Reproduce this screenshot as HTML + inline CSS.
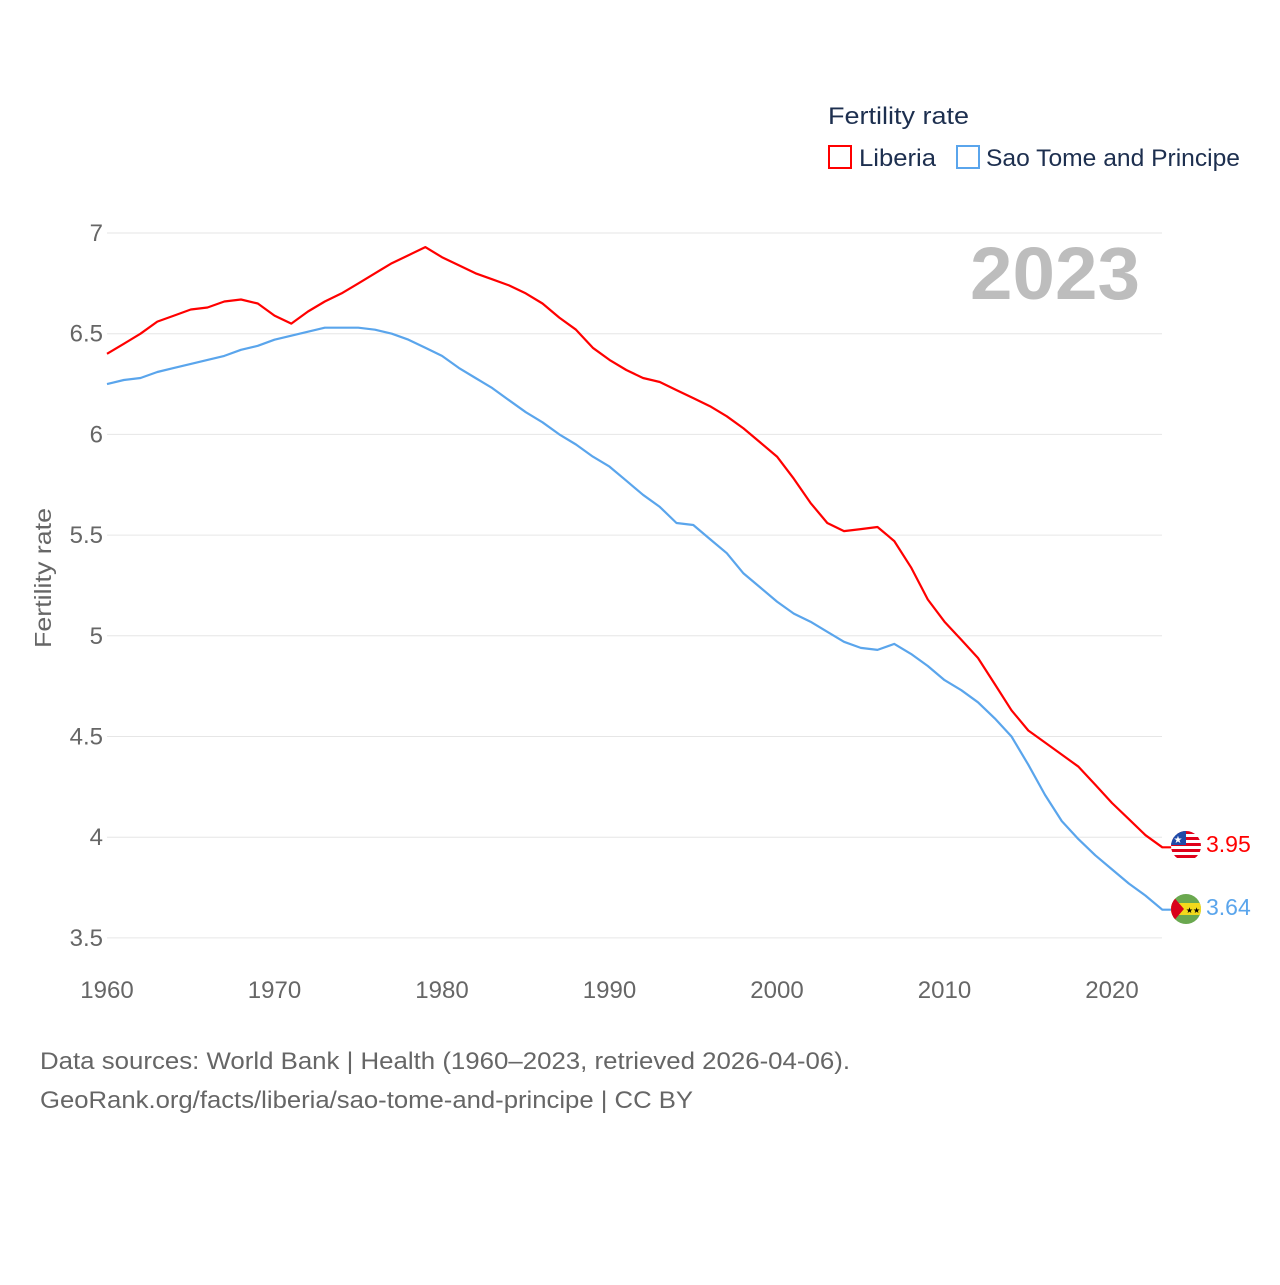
<!DOCTYPE html>
<html><head><meta charset="utf-8"><style>
body{margin:0;background:#fff;width:1280px;height:1280px;overflow:hidden;font-family:"Liberation Sans",sans-serif}
</style></head><body>
<svg id="chart" width="1280" height="1280" xmlns="http://www.w3.org/2000/svg" font-family="Liberation Sans, sans-serif">
<text x="828" y="124" font-size="24" fill="#1d2f4f" textLength="141" lengthAdjust="spacingAndGlyphs">Fertility rate</text>
<g><rect x="829" y="146" width="22" height="22" fill="none" stroke="#f00" stroke-width="2"/><text x="859" y="166" font-size="24" fill="#1d2f4f" textLength="77" lengthAdjust="spacingAndGlyphs">Liberia</text></g>
<g><rect x="957" y="146" width="22" height="22" fill="none" stroke="#5aa5ec" stroke-width="2"/><text x="986" y="166" font-size="24" fill="#1d2f4f" textLength="254" lengthAdjust="spacingAndGlyphs">Sao Tome and Principe</text></g>
<text x="1140" y="299" font-size="74" font-weight="bold" fill="#bdbdbd" text-anchor="end" textLength="170" lengthAdjust="spacingAndGlyphs">2023</text>
<text transform="translate(51,578) rotate(-90)" font-size="23" fill="#666" text-anchor="middle" textLength="140" lengthAdjust="spacingAndGlyphs">Fertility rate</text>
<g id="grid"></g><g id="series"></g>
<g>
<clipPath id="c1"><circle cx="1186" cy="846" r="15"/></clipPath>
<g clip-path="url(#c1)"><rect x="1171" y="831" width="30" height="30" fill="#fff"/>
<rect x="1171" y="831" width="30" height="3" fill="#e0001a"/><rect x="1171" y="837" width="30" height="3" fill="#e0001a"/><rect x="1171" y="843" width="30" height="3" fill="#e0001a"/><rect x="1171" y="849" width="30" height="3" fill="#e0001a"/><rect x="1171" y="855" width="30" height="3" fill="#e0001a"/>
<rect x="1171" y="831" width="15" height="14" fill="#1f4aa8"/><text x="1178" y="843" font-size="10" fill="#fff" text-anchor="middle">★</text></g></g>
<g>
<clipPath id="c2"><circle cx="1186" cy="909" r="15"/></clipPath>
<g clip-path="url(#c2)"><rect x="1171" y="894" width="30" height="30" fill="#6aa84f"/><rect x="1171" y="903" width="30" height="12" fill="#f2d91c"/>
<polygon points="1171,894 1184,909 1171,924" fill="#d9001b"/><text x="1193" y="913" font-size="8" fill="#000" text-anchor="middle">★★</text></g></g>
<text x="1206" y="852" font-size="23" fill="#f00">3.95</text>
<text x="1206" y="915" font-size="23" fill="#5aa5ec">3.64</text>
<text x="40" y="1069" font-size="24" fill="#666" textLength="810" lengthAdjust="spacingAndGlyphs">Data sources: World Bank | Health (1960–2023, retrieved 2026-04-06).</text>
<text x="40" y="1108" font-size="24" fill="#666" textLength="653" lengthAdjust="spacingAndGlyphs">GeoRank.org/facts/liberia/sao-tome-and-principe | CC BY</text>
</svg>
<script>
const years=[];for(let y=1960;y<=2023;y++)years.push(y);
const liberia=[6.40,6.45,6.50,6.56,6.59,6.62,6.63,6.66,6.67,6.65,6.59,6.55,6.61,6.66,6.70,6.75,6.80,6.85,6.89,6.93,6.88,6.84,6.80,6.77,6.74,6.70,6.65,6.58,6.52,6.43,6.37,6.32,6.28,6.26,6.22,6.18,6.14,6.09,6.03,5.96,5.89,5.78,5.66,5.56,5.52,5.53,5.54,5.47,5.34,5.18,5.07,4.98,4.89,4.76,4.63,4.53,4.47,4.41,4.35,4.26,4.17,4.09,4.01,3.95];
const saoTome=[6.25,6.27,6.28,6.31,6.33,6.35,6.37,6.39,6.42,6.44,6.47,6.49,6.51,6.53,6.53,6.53,6.52,6.50,6.47,6.43,6.39,6.33,6.28,6.23,6.17,6.11,6.06,6.00,5.95,5.89,5.84,5.77,5.70,5.64,5.56,5.55,5.48,5.41,5.31,5.24,5.17,5.11,5.07,5.02,4.97,4.94,4.93,4.96,4.91,4.85,4.78,4.73,4.67,4.59,4.50,4.36,4.21,4.08,3.99,3.91,3.84,3.77,3.71,3.64];
const yTicks=[3.5,4,4.5,5,5.5,6,6.5,7];
const xTicks=[1960,1970,1980,1990,2000,2010,2020];
const NS="http://www.w3.org/2000/svg";
const xS=y=>107+(y-1960)*(1005/60);
const yS=v=>233+(7-v)*201.4;
const grid=document.getElementById('grid'),ser=document.getElementById('series');
function mk(tag,attrs,parent){const e=document.createElementNS(NS,tag);for(const k in attrs)e.setAttribute(k,attrs[k]);parent.appendChild(e);return e;}
yTicks.forEach(v=>{
  const l=mk('line',{x1:107,x2:1162,y1:yS(v),y2:yS(v),stroke:'#e6e6e6','stroke-width':1},grid);
  
  
  const t=mk('text',{x:103,y:yS(v)+8,'font-size':24,fill:'#666','text-anchor':'end'},grid);t.textContent=String(v);
  
  
});
xTicks.forEach(y=>{
  const t=mk('text',{x:xS(y),y:998,'font-size':24,fill:'#666','text-anchor':'middle'},grid);t.textContent=String(y);
  
  
});
function line(data,color,name){
  let d=data.map((v,i)=>(i?'L':'M')+xS(years[i]).toFixed(1)+','+yS(v).toFixed(1)).join(' ');
  d+=' L'+(xS(years[years.length-1])+10).toFixed(1)+','+yS(data[data.length-1]).toFixed(1);
  const p=mk('path',{d:d,fill:'none',stroke:color,'stroke-width':2.2,'stroke-linejoin':'round'},ser);
  
  
}
line(saoTome,'#5aa5ec','sao-tome-line');
line(liberia,'#f00','liberia-line');
</script>
</body></html>
